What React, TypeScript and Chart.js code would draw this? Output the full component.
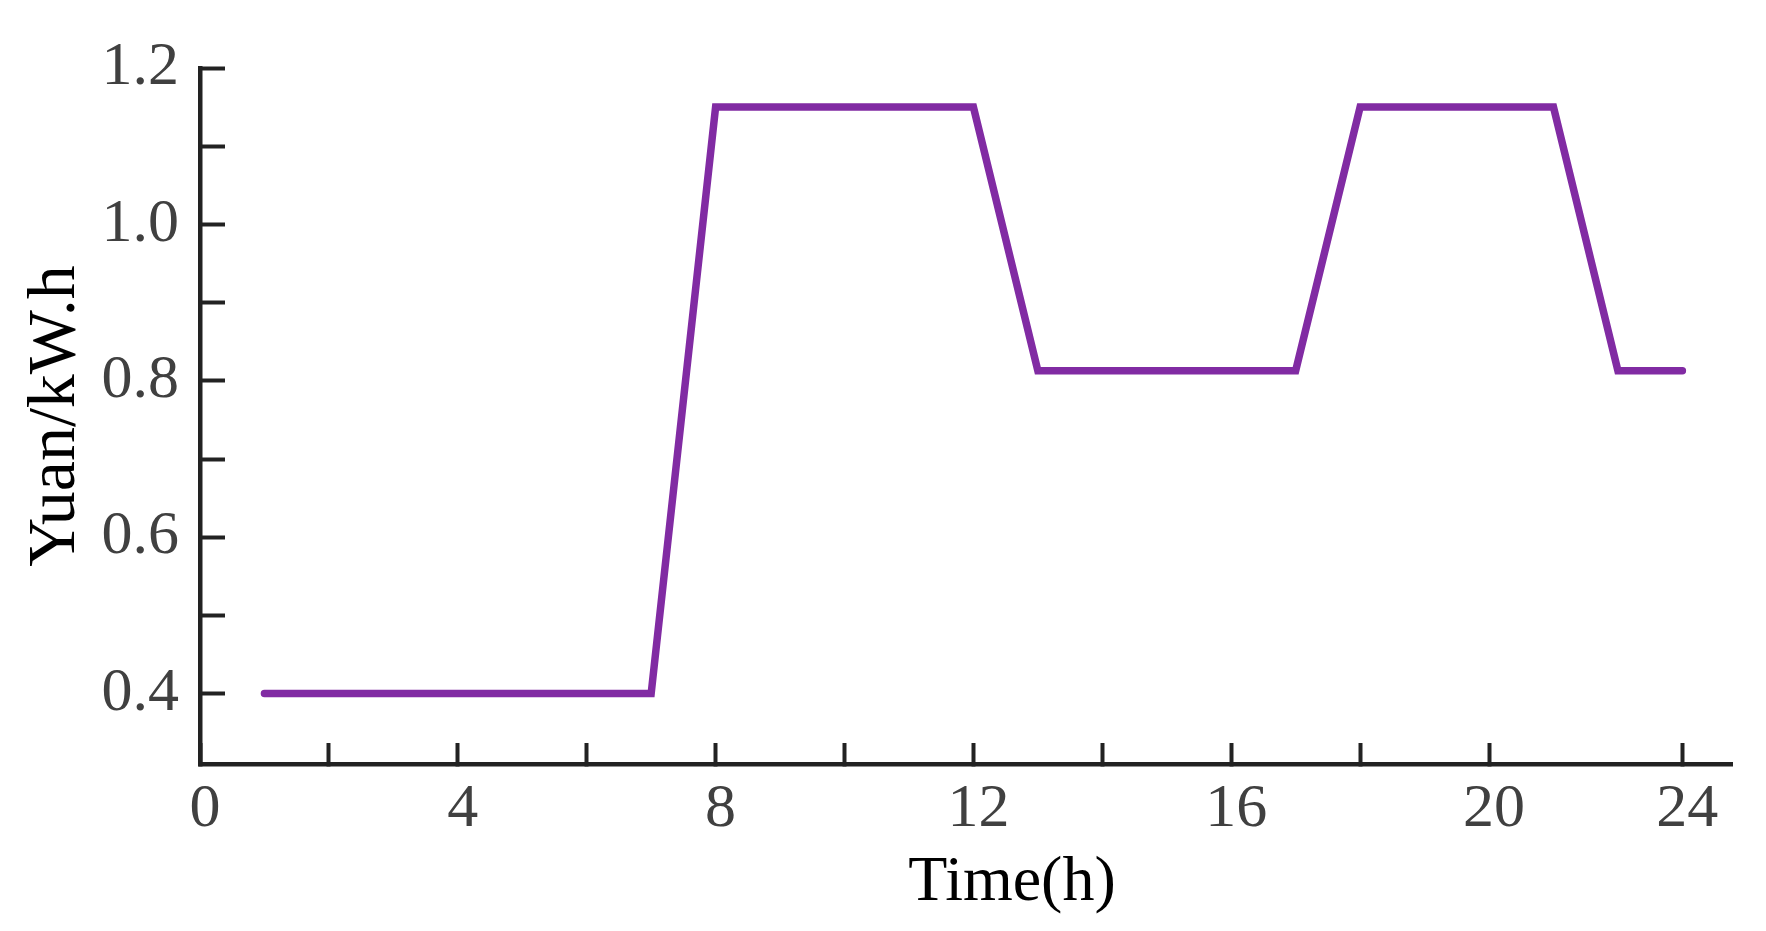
import React, { useEffect, useRef } from "react";
import { Chart, registerables } from "chart.js";

Chart.register(...registerables);

const hours = [1, 2, 3, 4, 5, 6, 7, 8, 9, 10, 11, 12, 13, 14, 15, 16, 17, 18, 19, 20, 21, 22, 23];
const prices = [
  0.4, 0.4, 0.4, 0.4, 0.4, 0.4, 0.4,
  1.15, 1.15, 1.15, 1.15, 1.15,
  0.813, 0.813, 0.813, 0.813, 0.813,
  1.15, 1.15, 1.15, 1.15,
  0.813, 0.813,
];
const xTickPositions = [0, 2, 4, 6, 8, 10, 12, 14, 16, 18, 20, 23];
const xTickLabels = ["0", "", "4", "", "8", "", "12", "", "16", "", "20", "24"];
const yTickPositions = [0.4, 0.5, 0.6, 0.7, 0.8, 0.9, 1.0, 1.1, 1.2];
const yTickLabels = ["0.4", "", "0.6", "", "0.8", "", "1.0", "", "1.2"];
const xTitle = "Time(h)";
const yTitle = "Yuan/kW.h";

const FONT = '"Liberation Serif", "Times New Roman", serif';
const AXIS = "#222222";

const xTitlePlugin = {
  id: "xTitlePlugin",
  afterDraw(chart: any) {
    const { ctx, chartArea } = chart;
    ctx.save();
    ctx.font = `64px ${FONT}`;
    ctx.fillStyle = "#000000";
    ctx.textAlign = "center";
    ctx.textBaseline = "alphabetic";
    ctx.fillText(xTitle, (chartArea.left + chartArea.right) / 2 + 46, 900);
    ctx.restore();
  },
};

export default function App() {
  const ref = useRef<HTMLCanvasElement | null>(null);
  useEffect(() => {
    if (!ref.current) return;
    const chart = new Chart(ref.current, {
      type: "line",
      data: {
        datasets: [
          {
            data: hours.map((h, i) => ({ x: h, y: prices[i] })),
            borderColor: "#812ba3",
            borderWidth: 7.5,
            pointRadius: 0,
            tension: 0,
            fill: false,
            borderJoinStyle: "miter",
            borderCapStyle: "round",
          },
        ],
      },
      options: {
        animation: false,
        responsive: true,
        maintainAspectRatio: false,
        layout: { padding: { top: 68, right: 34, left: 0, bottom: 0 } },
        plugins: { legend: { display: false }, tooltip: { enabled: false } },
        scales: {
          x: {
            type: "linear",
            min: 0,
            max: 23.77,
            afterBuildTicks: (scale: any) => {
              scale.ticks = xTickPositions.map((v) => ({ value: v }));
            },
            afterFit: (scale: any) => {
              scale.height = 931 - 764;
              scale.paddingLeft = 0;
              scale.paddingRight = 0;
            },
            grid: {
              drawOnChartArea: false,
              tickLength: -21,
              tickWidth: 4,
              tickColor: AXIS,
            },
            border: { display: true, color: AXIS, width: 4.5 },
            ticks: {
              autoSkip: false,
              maxRotation: 0,
              padding: 30,
              labelOffset: 5,
              color: "#404040",
              font: { family: FONT, size: 62 },
              callback: (_v: any, i: number) => xTickLabels[i],
            },
          },
          y: {
            type: "linear",
            min: 0.31,
            max: 1.2,
            afterBuildTicks: (scale: any) => {
              scale.ticks = yTickPositions.map((v) => ({ value: v }));
            },
            afterFit: (scale: any) => {
              scale.width = 200;
              scale.paddingTop = 0;
              scale.paddingBottom = 0;
            },
            grid: {
              drawOnChartArea: false,
              tickLength: -25,
              tickWidth: 4,
              tickColor: AXIS,
            },
            border: { display: true, color: AXIS, width: 4.5 },
            ticks: {
              autoSkip: false,
              padding: 46,
              color: "#404040",
              font: { family: FONT, size: 62 },
              callback: (_v: any, i: number) => yTickLabels[i],
            },
            title: {
              display: true,
              text: yTitle,
              color: "#000000",
              font: { family: FONT, size: 68 },
              padding: { top: 15, bottom: 0 },
            },
          },
        },
      },
      plugins: [xTitlePlugin],
    } as any);
    return () => chart.destroy();
  }, []);
  return (
    <div style={{ position: "fixed", left: 0, top: 0, width: 1766, height: 931, background: "#ffffff" }}>
      <canvas ref={ref} />
    </div>
  );
}
